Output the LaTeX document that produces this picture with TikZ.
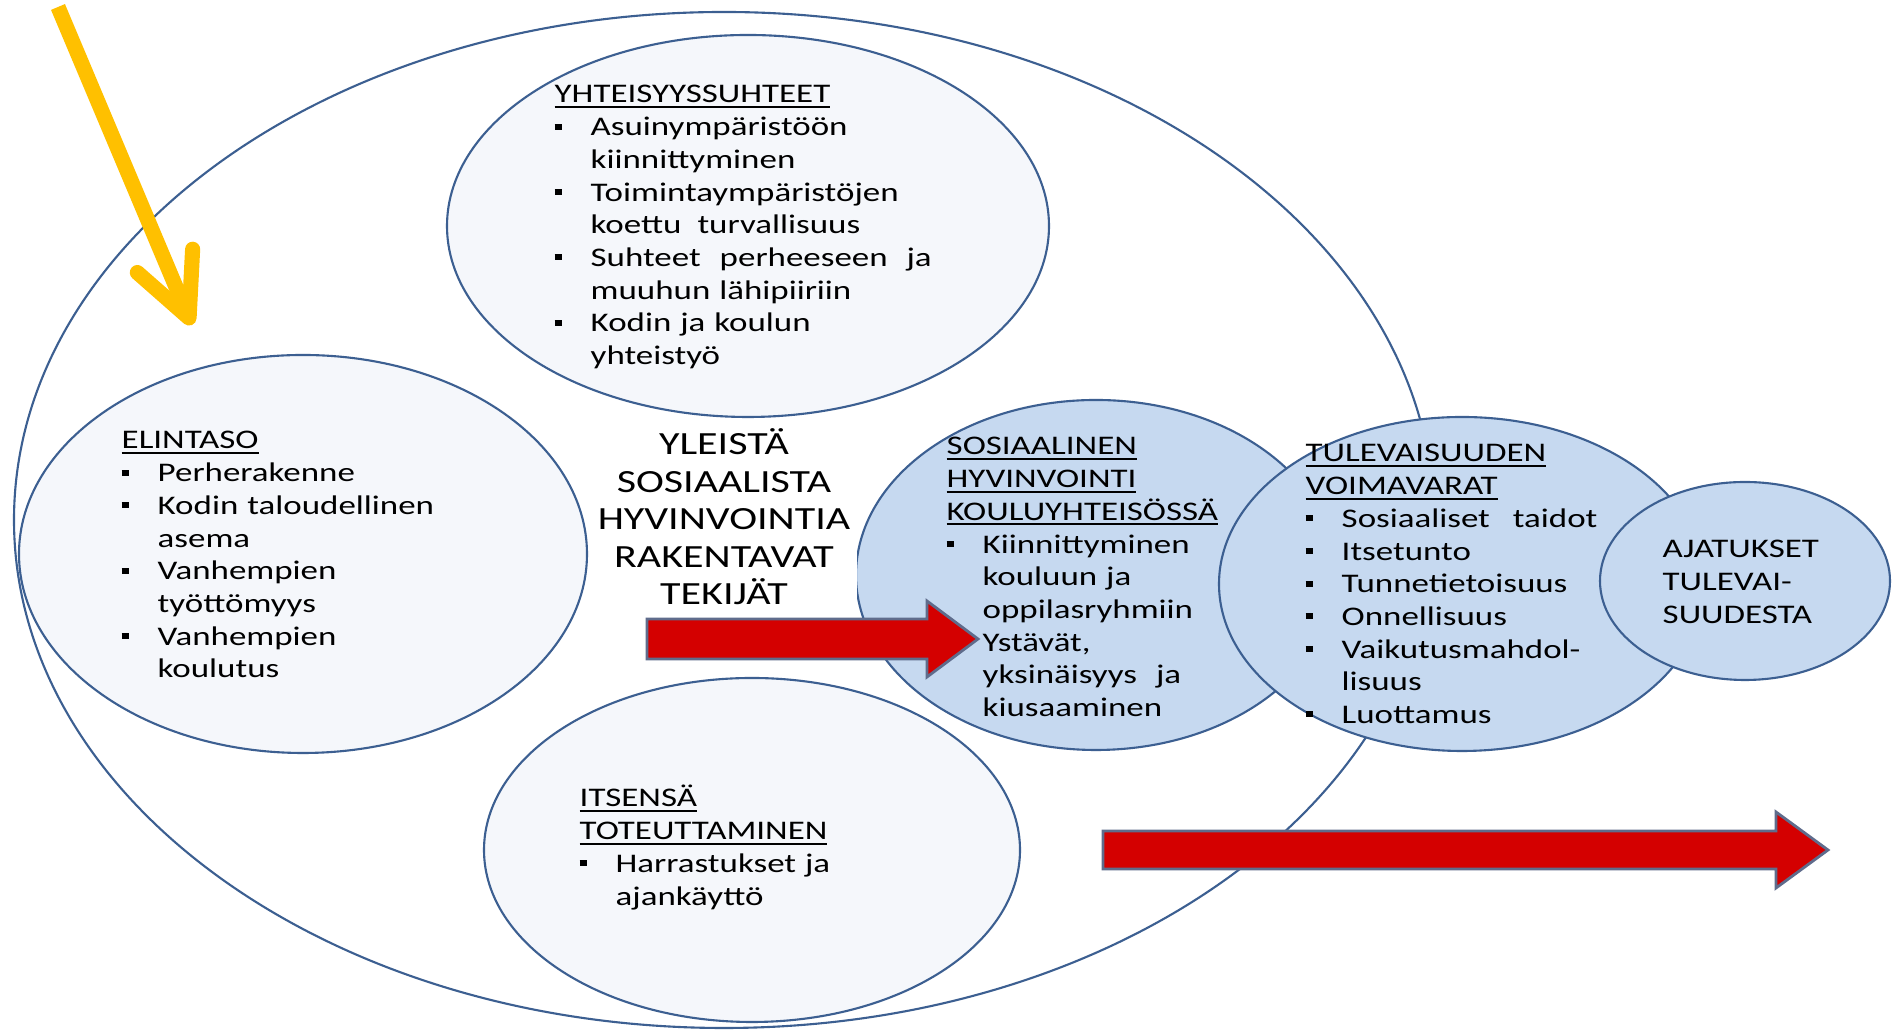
\documentclass[tikz,border=0pt]{standalone}
\usepackage{fontspec}
\setmainfont[FakeStretch=1.3]{Carlito}
\usetikzlibrary{shapes.geometric, arrows.meta}

\definecolor{reuna}{RGB}{60,95,145}
\definecolor{vaalea}{RGB}{245,247,251}
\definecolor{sininen}{RGB}{198,217,240}
\definecolor{punainen}{RGB}{212,0,0}
\definecolor{nuolireuna}{RGB}{95,108,140}
\definecolor{keltainen}{RGB}{255,192,0}

\newcommand{\otsikko}[1]{\leavevmode\setbox0\hbox{#1}\rlap{\rule[-1.4pt]{\wd0}{0.55pt}}\box0}
\newcommand{\pallo}{\makebox[0.36cm][l]{\rule[0.06cm]{0.07cm}{0.06cm}}}
\newcommand{\sisennys}{\hspace*{0.36cm}}

\begin{document}
\begin{tikzpicture}

	\tikzstyle{soikio}=[ellipse, draw=reuna, line width=0.6pt, fill=vaalea, inner sep=0pt]
	\tikzstyle{sininen}=[soikio, fill=sininen]
	\tikzstyle{teksti}=[anchor=base west, inner sep=0pt, text width=4cm, align=left, font=\fontsize{7.65}{9.3}\selectfont]
	\tikzstyle{keski}=[anchor=base, fill=white, inner sep=0.02cm, text width=2.62cm, align=center, font=\fontsize{9.2}{10.67}\selectfont]
	\tikzstyle{punanuoli}=[fill=punainen, draw=nuolireuna, line width=0.8pt]
	\tikzstyle{keltanuoli}=[draw=keltainen, line width=4.3pt, -{Straight Barb[length=0.62cm, width=0.60cm, round]}]

	\useasboundingbox (0, 0) rectangle (18.93, 10.31);

	\coordinate (ulko) at (7.24, 5.11); % ISO SOIKIO
	\coordinate (yhteis) at (7.48, 8.05); % YLHAALLA
	\coordinate (elintaso) at (3.03, 4.77); % VASEMMALLA
	\coordinate (itsensa) at (7.52, 1.81); % ALHAALLA
	\coordinate (sosiaali) at (10.96, 4.56); % SININEN 1
	\coordinate (tulevaisuus) at (14.62, 4.47); % SININEN 2
	\coordinate (ajatukset) at (17.45, 4.50); % SININEN 3

	\coordinate (kelta_alku) at (0.58, 10.24);
	\coordinate (kelta_karki) at (1.92, 7.06);
	\coordinate (nuoli_1) at (6.47, 3.92);
	\coordinate (nuoli_2) at (11.03, 1.81);

	\node[soikio, fill=white, minimum width=14.20cm, minimum height=10.16cm] (ulko) at (ulko) {};
	\draw[keltanuoli] (kelta_alku) -- (kelta_karki);

	\node[soikio, minimum width=6.02cm, minimum height=3.82cm] (yhteis) at (yhteis) {};
	\node[soikio, minimum width=5.68cm, minimum height=3.98cm] (elintaso) at (elintaso) {};
	\node[soikio, minimum width=5.36cm, minimum height=3.44cm] (itsensa) at (itsensa) {};
	\node[sininen, minimum width=4.80cm, minimum height=3.50cm] (sosiaali) at (sosiaali) {};
	\node[sininen, minimum width=4.86cm, minimum height=3.34cm] (tulevaisuus) at (tulevaisuus) {};
	\node[sininen, minimum width=2.90cm, minimum height=1.98cm] (ajatukset) at (ajatukset) {};

	%%%%%%%%%%%%%%%%%%%%%%%%%%%%%%%%%
	%%%%%%%%%%%% TEKSTIT %%%%%%%%%%%%%
	\node[teksti] (yhteis_t) at (5.54, 9.28) {\otsikko{YHTEISYYSSUHTEET}\\
		\pallo Asuinympäristöön\\ \sisennys kiinnittyminen\\
		\pallo Toimintaympäristöjen\\ \sisennys koettu\hspace{0.07cm} turvallisuus\\
		\pallo Suhteet\hspace{0.1cm} perheeseen\hspace{0.1cm} ja\\ \sisennys muuhun lähipiiriin\\
		\pallo Kodin ja koulun\\ \sisennys yhteistyö};
	\node[teksti] (elintaso_t) at (1.21, 5.82) {\otsikko{ELINTASO}\\
		\pallo Perherakenne\\
		\pallo Kodin taloudellinen\\ \sisennys asema\\
		\pallo Vanhempien\\ \sisennys työttömyys\\
		\pallo Vanhempien\\ \sisennys koulutus};
	\node[keski] (keski_t) at (7.24, 5.76) {YLEISTÄ\\ SOSIAALISTA\\ HYVINVOINTIA\\ RAKENTAVAT\\ TEKIJÄT};
	\node[teksti] (sosiaali_t) at (9.46, 5.76) {\otsikko{SOSIAALINEN}\\ \otsikko{HYVINVOINTI}\\ \otsikko{KOULUYHTEISÖSSÄ}\\
		\pallo Kiinnittyminen\\ \sisennys kouluun ja\\ \sisennys oppilasryhmiin\\
		\sisennys Ystävät,\\ \sisennys yksinäisyys\hspace{0.1cm} ja\\ \sisennys kiusaaminen};
	\node[teksti] (tulevaisuus_t) at (13.05, 5.69) {\otsikko{TULEVAISUUDEN}\\ \otsikko{VOIMAVARAT}\\
		\pallo Sosiaaliset\hspace{0.14cm} taidot\\
		\pallo Itsetunto\\
		\pallo Tunnetietoisuus\\
		\pallo Onnellisuus\\
		\pallo Vaikutusmahdol-\\ \sisennys lisuus\\
		\pallo Luottamus};
	\node[teksti] (ajatukset_t) at (16.62, 4.73) {AJATUKSET\\ TULEVAI-\\ SUUDESTA};
	\node[teksti] (itsensa_t) at (5.79, 2.24) {\otsikko{ITSENSÄ}\\ \otsikko{TOTEUTTAMINEN}\\
		\pallo Harrastukset ja\\ \sisennys ajankäyttö};
	%%%%%%%%%%%%%%%%%%%%%%%%%%%%%%%%%

	%%%%%%%%%%%% NUOLET %%%%%%%%%%%%%%
	\draw[punanuoli] (nuoli_1) -- ++(0, 0.20) -- ++(2.80, 0) -- ++(0, 0.18) -- ++(0.51, -0.38)
		-- ++(-0.51, -0.38) -- ++(0, 0.18) -- ++(-2.80, 0) -- cycle;
	\draw[punanuoli] (nuoli_2) -- ++(0, 0.19) -- ++(6.73, 0) -- ++(0, 0.19) -- ++(0.52, -0.38)
		-- ++(-0.52, -0.38) -- ++(0, 0.19) -- ++(-6.73, 0) -- cycle;
	%%%%%%%%%%%%%%%%%%%%%%%%%%%%%%%%%
\end{tikzpicture}
\end{document}
